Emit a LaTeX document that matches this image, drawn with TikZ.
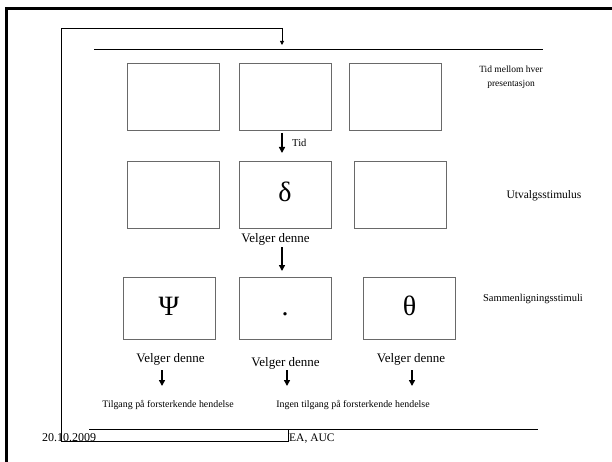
\documentclass[tikz,border=0pt]{standalone}
\usepackage{fontspec}
\setmainfont{Liberation Serif}
\usetikzlibrary{arrows.meta}
\definecolor{boxgray}{RGB}{105,105,105}
\tikzset{
  stim/.style={draw=boxgray, line width=0.8pt, minimum width=92pt, minimum height=67pt,
    inner sep=0pt, font=\fontsize{28}{30}\selectfont, text height=20pt, text depth=6pt},
  bigarrow/.style={line width=1.8pt, -{Triangle[width=6pt,length=6pt]}},
  wire/.style={line width=0.9pt},
  lbl/.style={inner sep=0pt, font=\fontsize{13}{15}\selectfont},
  side/.style={inner sep=0pt, align=center},
  small/.style={inner sep=0pt, font=\fontsize{9.9}{11}\selectfont},
}
\begin{document}
\begin{tikzpicture}[x=1pt,y=-1pt]
\useasboundingbox (0,0) rectangle (612,462);
% slide frame
\draw[line width=3pt] (6,462) -- (6,9) -- (612,9);

% horizontal rules
\coordinate (tl) at (94,49);
\coordinate (tr) at (543,49);
\draw[wire] (tl) -- (tr);
\coordinate (bl) at (89,429);
\coordinate (br) at (538,429);
\draw[wire] (bl) -- (br);

% stimulus boxes
\node[stim] (b11) at (173.5,96.5) {};
\node[stim] (b12) at (285,96.5) {};
\node[stim] (b13) at (395.5,96.5) {};
\node[stim] (b21) at (173.5,195) {};
\node[stim] (b22) at (285,195) {δ};
\node[stim] (b23) at (400.5,195) {};
\node[stim, minimum height=62pt] (b31) at (169,308) {Ψ};
\node[stim, minimum height=62pt] (b32) at (285,308) {.};
\node[stim, minimum height=62pt] (b33) at (409.5,308) {θ};

% side labels
\node[side, font=\fontsize{9.5}{14}\selectfont] (s1) at (511,77) {Tid mellom hver\\presentasjon};
\node[side, font=\fontsize{11.5}{14}\selectfont] (s2) at (544,196) {Utvalgsstimulus};
\node[side, font=\fontsize{10.5}{12}\selectfont] (s3) at (533,299) {Sammenligningsstimuli};

% Tid arrow
\coordinate (t1) at (282,133);
\coordinate (t2) at (282,153);
\draw[bigarrow] (t1) -- (t2);
\node[inner sep=0pt, font=\fontsize{10.5}{12}\selectfont, anchor=west] (tid) at (292,143) {Tid};

% Velger denne (middle)
\node[lbl] (v2) at (275.5,239) {Velger denne};
\coordinate (m1) at (282,247);
\coordinate (m2) at (282,271);
\draw[bigarrow] (m1) -- (m2);

% bottom labels
\node[lbl] (v31) at (170.5,359) {Velger denne};
\node[lbl] (v32) at (285.6,363) {Velger denne};
\node[lbl] (v33) at (411,359) {Velger denne};
\coordinate (a1s) at (162,370);
\coordinate (a1e) at (162,386);
\coordinate (a2s) at (287,370);
\coordinate (a2e) at (287,386);
\coordinate (a3s) at (412,370);
\coordinate (a3e) at (412,386);
\draw[bigarrow] (a1s) -- (a1e);
\draw[bigarrow] (a2s) -- (a2e);
\draw[bigarrow] (a3s) -- (a3e);
\node[small] (r1) at (168,405) {Tilgang på forsterkende hendelse};
\node[small] (r2) at (353,405) {Ingen tilgang på forsterkende hendelse};

% footer
\node[inner sep=0pt, anchor=base west, font=\fontsize{12}{14}\selectfont] (date) at (42,441) {20.10.2009};
\node[inner sep=0pt, anchor=base west, font=\fontsize{11.5}{14}\selectfont] (auth) at (289,441) {EA, AUC};

% feedback loop
\coordinate (f0) at (288,429);
\coordinate (f1) at (288,441);
\coordinate (f2) at (61,441);
\coordinate (f3) at (61,28);
\coordinate (f4) at (282,28);
\coordinate (f5) at (282,45);
\draw[wire] (f0) -- (f1) -- (f2) -- (f3) -- (f4);
\draw[wire, -{Triangle[width=4pt,length=4pt]}] (f4) -- (f5);
\end{tikzpicture}
\end{document}
